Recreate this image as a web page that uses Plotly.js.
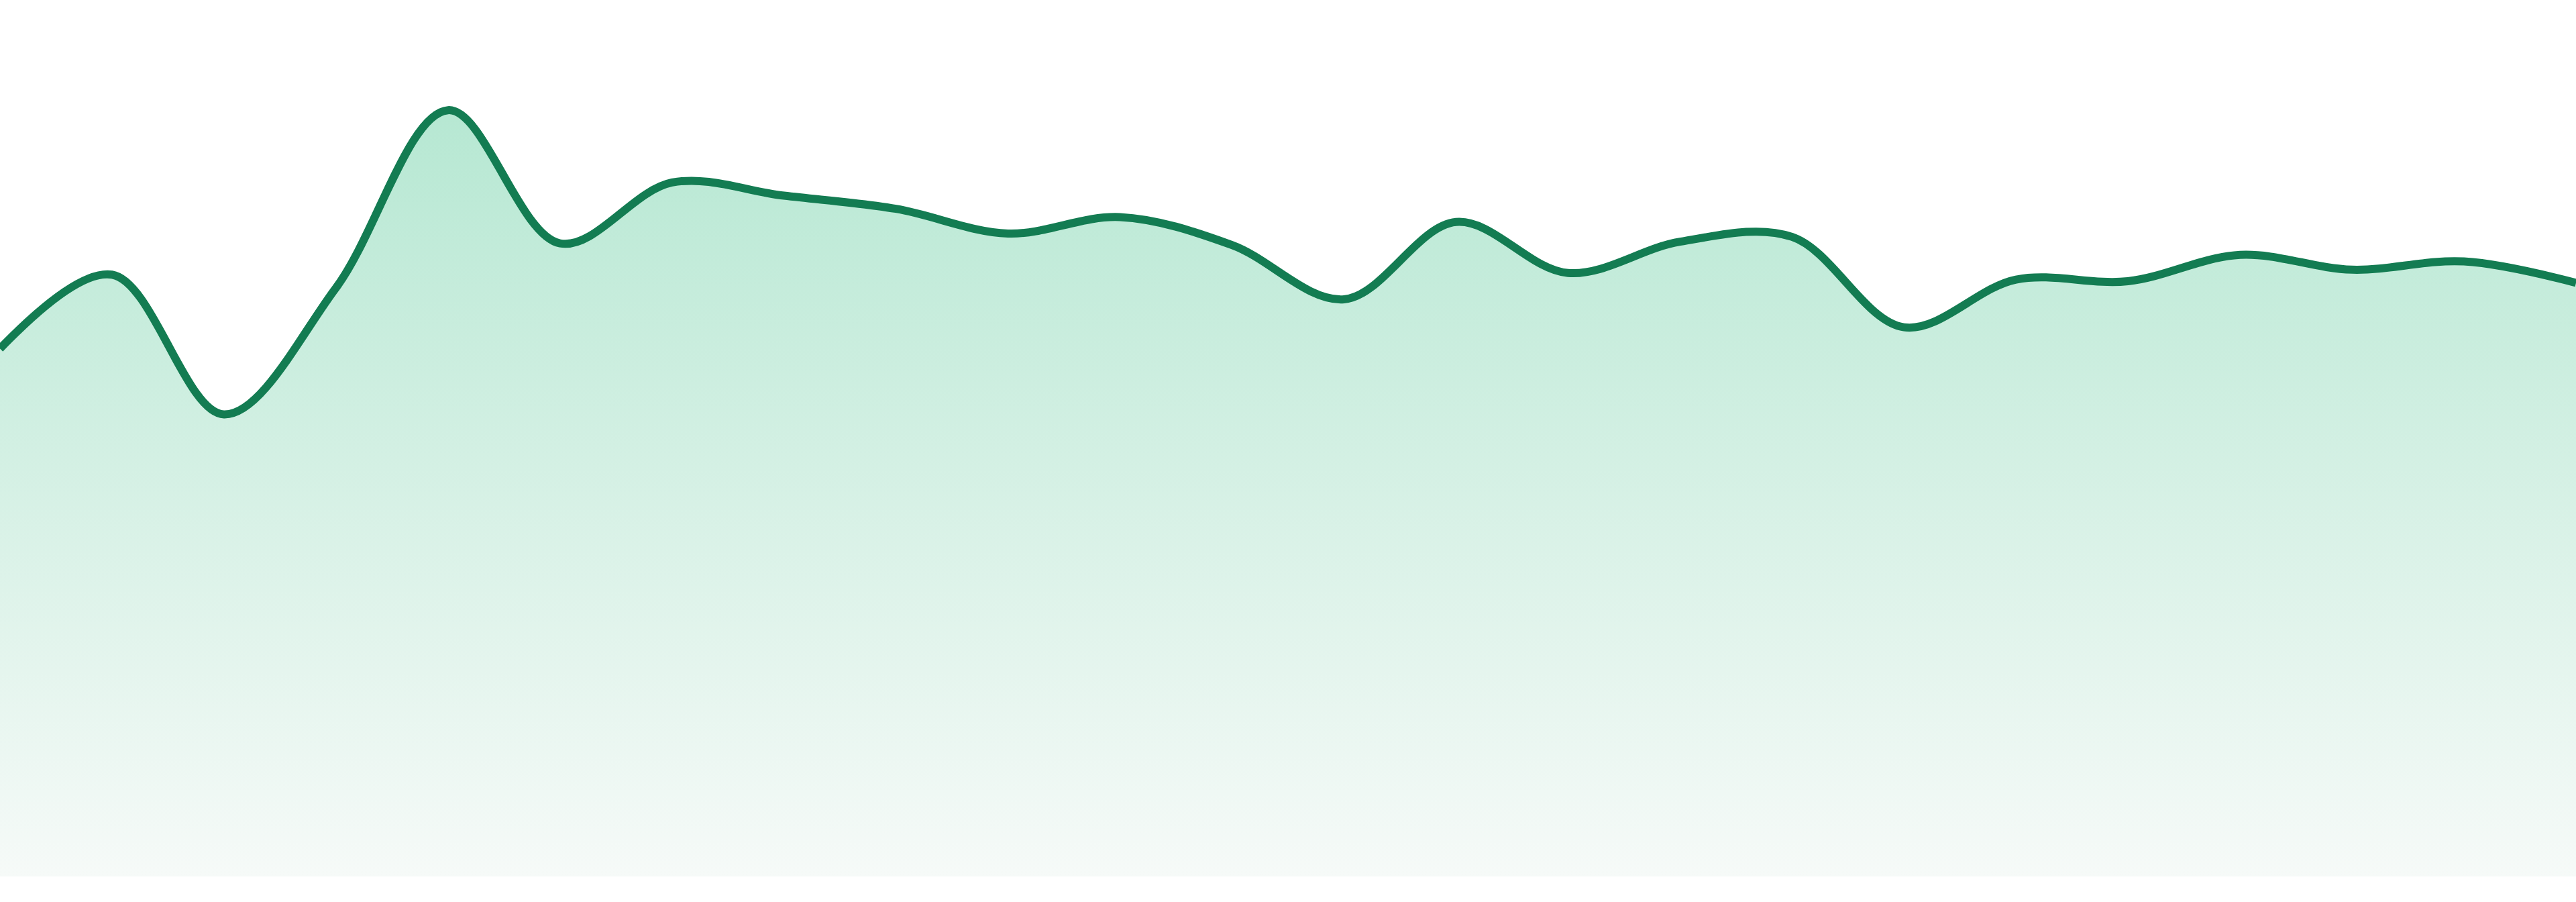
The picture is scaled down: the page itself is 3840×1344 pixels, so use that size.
<!DOCTYPE html>
<html>
<head>
<meta charset="utf-8">
<script src="https://cdn.plot.ly/plotly-3.0.1.min.js"></script>
<style>
  html, body { margin: 0; padding: 0; background: #ffffff; overflow: hidden; }
  #chart { width: 100vw; height: 100vh; }
</style>
</head>
<body>
<div id="chart"></div>
<script>
// one point per step
const steps = [0, 1, 2, 3, 4, 5, 6, 7, 8, 9, 10, 11, 12, 13, 14, 15, 16, 17, 18, 19, 20, 21, 22, 23];
const values = [321, 366, 281, 358, 466, 385, 422, 414, 406, 391, 401, 384,
  351, 398, 367, 386, 389, 334, 363, 362, 378, 369, 374, 361];

const yTop = 533;

// sizes were measured on a 3840x1344 picture; scale if the window differs
const W = window.innerWidth || 3840;
const H = window.innerHeight || 1344;
const k = W / 3840;

const trace = {
  x: steps,
  y: values,
  type: 'scatter',
  mode: 'lines',
  line: { color: '#137c52', width: 12 * k, shape: 'spline', smoothing: 1 },
  fill: 'tozeroy',
  fillgradient: {
    type: 'vertical',
    start: 0,
    stop: yTop,
    colorscale: [[0, '#f6faf8'], [1, '#ade5cd']],
  },
  hoverinfo: 'skip',
};

const layout = {
  width: W,
  height: H,
  margin: { l: 0, r: 0, t: 0, b: Math.round(38 * H / 1344), pad: 0 },
  paper_bgcolor: '#ffffff',
  plot_bgcolor: '#ffffff',
  showlegend: false,
  xaxis: { range: [0, 23], visible: false, fixedrange: true },
  yaxis: { range: [0, yTop], visible: false, fixedrange: true },
};

Plotly.newPlot('chart', [trace], layout, { displayModeBar: false, staticPlot: true });
</script>
</body>
</html>
